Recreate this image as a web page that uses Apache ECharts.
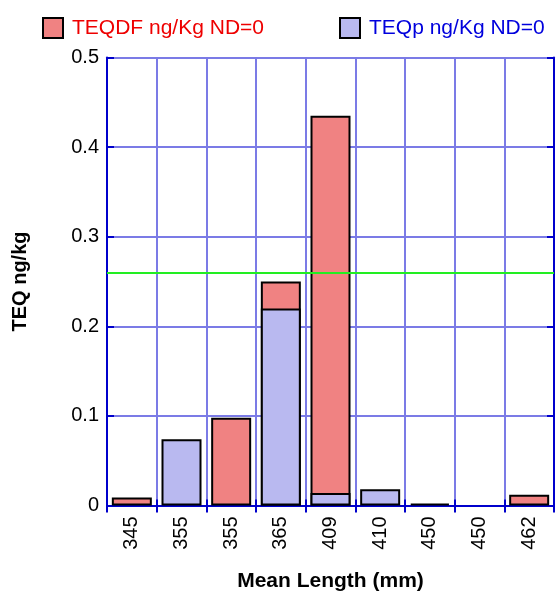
<!DOCTYPE html>
<html>
<head>
<meta charset="utf-8">
<script src="https://cdn.jsdelivr.net/npm/echarts@6/dist/echarts.min.js"></script>
<style>
html,body{margin:0;padding:0;background:#fff;}
#c{width:556px;height:594px;}
</style>
</head>
<body>
<div id="c"></div>
<script>
const categories = ['345','355','355','365','409','410','450','450','462'];
const teqdfValues = [0.009, null, 0.098, 0.250, 0.435, null, 0.002, null, 0.012];
const teqpValues = [null, 0.074, null, 0.220, 0.014, 0.018, null, null, null];
const referenceLine = 0.2555;
const yTicks = [0, 0.1, 0.2, 0.3, 0.4, 0.5];
const seriesNames = ['TEQDF ng/Kg ND=0', 'TEQp ng/Kg ND=0'];

const FONT = '"Liberation Sans", Arial, sans-serif';
const AXIS_BLUE = '#0000cc';
const GRID_BLUE = '#7b7be6';

const chart = echarts.init(document.getElementById('c'), null, {renderer: 'canvas'});
chart.setOption({
  animation: false,
  textStyle: {fontFamily: FONT},
  legend: [
    {
      data: [seriesNames[0]], left: 37, top: 12, itemWidth: 20, itemHeight: 20,
      icon: 'rect', selectedMode: false,
      textStyle: {color: '#ee0000', fontSize: 21, fontFamily: FONT, padding: [0,0,0,4]}
    },
    {
      data: [seriesNames[1]], left: 334, top: 12, itemWidth: 20, itemHeight: 20,
      icon: 'rect', selectedMode: false,
      textStyle: {color: '#0000dd', fontSize: 21, fontFamily: FONT, padding: [0,0,0,4]}
    }
  ],
  grid: {left: 107, top: 57.5, width: 447, height: 448, containLabel: false, outerBoundsMode: 'none'},
  xAxis: [
    {
      type: 'category', data: categories, position: 'bottom',
      name: 'Mean Length (mm)', nameLocation: 'middle', nameGap: 65,
      nameTextStyle: {fontSize: 21, fontWeight: 'bold', color: '#000', fontFamily: FONT},
      axisLine: {lineStyle: {color: AXIS_BLUE, width: 2}},
      axisTick: {show: true, inside: true, length: 6, alignWithLabel: false, lineStyle: {color: AXIS_BLUE, width: 2}},
      axisLabel: {rotate: 90, fontSize: 20, color: '#000', margin: 11, fontFamily: FONT},
      splitLine: {show: true, lineStyle: {color: GRID_BLUE, width: 2}}
    },
    {
      type: 'category', data: categories, position: 'top',
      axisLine: {lineStyle: {color: AXIS_BLUE, width: 2}},
      axisTick: {show: true, inside: true, length: 7, lineStyle: {color: AXIS_BLUE, width: 2}},
      axisLabel: {show: false},
      splitLine: {show: false}
    }
  ],
  yAxis: [
    {
      type: 'value', min: yTicks[0], max: yTicks[yTicks.length-1], interval: 0.1,
      name: 'TEQ ng/kg', nameLocation: 'middle', nameGap: 77,
      nameTextStyle: {fontSize: 20, fontWeight: 'bold', color: '#000', fontFamily: FONT},
      axisLine: {show: true, lineStyle: {color: AXIS_BLUE, width: 2}},
      axisTick: {show: true, inside: true, length: 7, lineStyle: {color: AXIS_BLUE, width: 2}},
      axisLabel: {fontSize: 20, color: '#000', margin: 8, fontFamily: FONT,
        formatter: v => (v === 0 ? '0' : String(Math.round(v*10)/10))},
      splitLine: {show: true, lineStyle: {color: GRID_BLUE, width: 2}}
    },
    {
      type: 'value', min: yTicks[0], max: yTicks[yTicks.length-1], interval: 0.1, position: 'right',
      axisLine: {show: true, lineStyle: {color: AXIS_BLUE, width: 2}},
      axisTick: {show: true, inside: true, length: 7, lineStyle: {color: AXIS_BLUE, width: 2}},
      axisLabel: {show: false},
      splitLine: {show: false}
    }
  ],
  series: [
    {
      name: seriesNames[0], type: 'bar', data: teqdfValues, barWidth: 40, barGap: '-100%',
      itemStyle: {color: '#f08282', borderColor: '#000', borderWidth: 2}
    },
    {
      name: seriesNames[1], type: 'bar', data: teqpValues, barWidth: 40, barGap: '-100%',
      itemStyle: {color: '#b9b9f0', borderColor: '#000', borderWidth: 2},
      markLine: {
        silent: true, symbol: 'none', label: {show: false},
        lineStyle: {color: '#22ee22', width: 2, type: 'solid'},
        data: [{yAxis: referenceLine}]
      }
    }
  ]
});
</script>
</body>
</html>
